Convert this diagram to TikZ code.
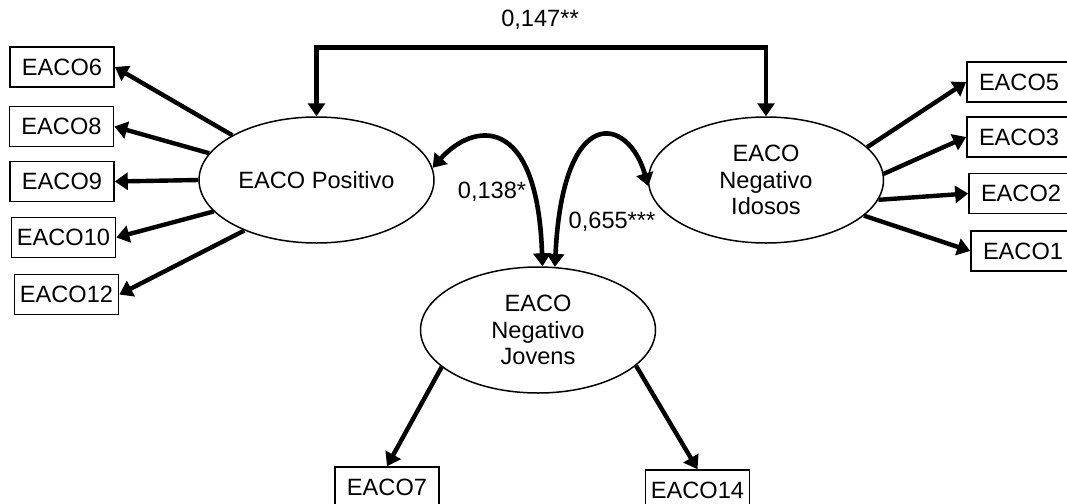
\documentclass[tikz,border=0pt]{standalone}
\usepackage{fontspec}
\setmainfont{Liberation Sans}
\usetikzlibrary{shapes.geometric,arrows.meta}

\begin{document}
\begin{tikzpicture}[x=0.5pt, y=-0.5pt,
    font=\fontsize{11.8}{13.25}\selectfont,
    item/.style={draw, rectangle, line width=0.8pt, minimum width=52pt, minimum height=20pt, inner sep=0pt},
    latent/.style={draw, ellipse, line width=0.75pt, minimum width=117.5pt, minimum height=63pt, inner sep=0pt, align=center},
    load/.style={line width=2.2pt, -{Triangle[length=6.5pt,width=8.5pt]}},
    cov/.style={line width=2.3pt, line join=miter, {Triangle[length=6.5pt,width=8.5pt]}-{Triangle[length=6.5pt,width=8.5pt]}}]
            \useasboundingbox (0,0) rectangle (1067,504);
            \clip (0,0) rectangle (1067,504);

            % latent factors
            \node[latent] (pos) at (316.5,180) {EACO Positivo};
            \node[latent] (ido) at (766,180) {EACO\\Negativo\\Idosos};
            \node[latent] (jov) at (538,330) {EACO\\Negativo\\Jovens};

            % items
            \node[item] (e6) at (62,67) {EACO6};
            \node[item] (e8) at (61.5,126.5) {EACO8};
            \node[item] (e9) at (62,181.5) {EACO9};
            \node[item] (e10) at (63.5,237.5) {EACO10};
            \node[item] (e12) at (66.5,294.5) {EACO12};
            \node[item] (e5) at (1019,82) {EACO5};
            \node[item] (e3) at (1019,137) {EACO3};
            \node[item] (e2) at (1021,193.5) {EACO2};
            \node[item] (e1) at (1023,251) {EACO1};
            \node[item] (e7) at (387,487) {EACO7};
            \node[item] (e14) at (697.5,490) {EACO14};

            % loadings
            \draw[load] (pos.152.8) -- (e6.east);
            \draw[load] (pos.166.4) -- (e8.east);
            \draw[load] (pos.180) -- (e9.east);
            \draw[load] (pos.197.7) -- (e10.east);
            \draw[load] (pos.215.8) -- (e12.east);
            \draw[load] (ido.18.6) -- (e5.west);
            \draw[load] (ido.3.5) -- (e3.west);
            \draw[load] (ido.-10) -- (e2.west);
            \draw[load] (ido.-20.5) -- (e1.west);
            \draw[load] (jov.201.6) -- (e7.north);
            \draw[load] (jov.-20.4) -- (e14.north);

            % correlations
            \draw[cov] (pos.north) -- ++(0,-69) -| (ido.north);
            \node (r147) at (540,20) {0,147**};
            \draw[cov] (jov.86) .. controls +(-5,-155) and +(40,-45) .. (pos.6);
            \node (r138) at (492,192) {0,138*};
            \draw[cov] (jov.75) .. controls +(8,-165) and +(-20,-70) .. (ido.183);
            \node (r655) at (612,222) {0,655***};
        \end{tikzpicture}
\end{document}
